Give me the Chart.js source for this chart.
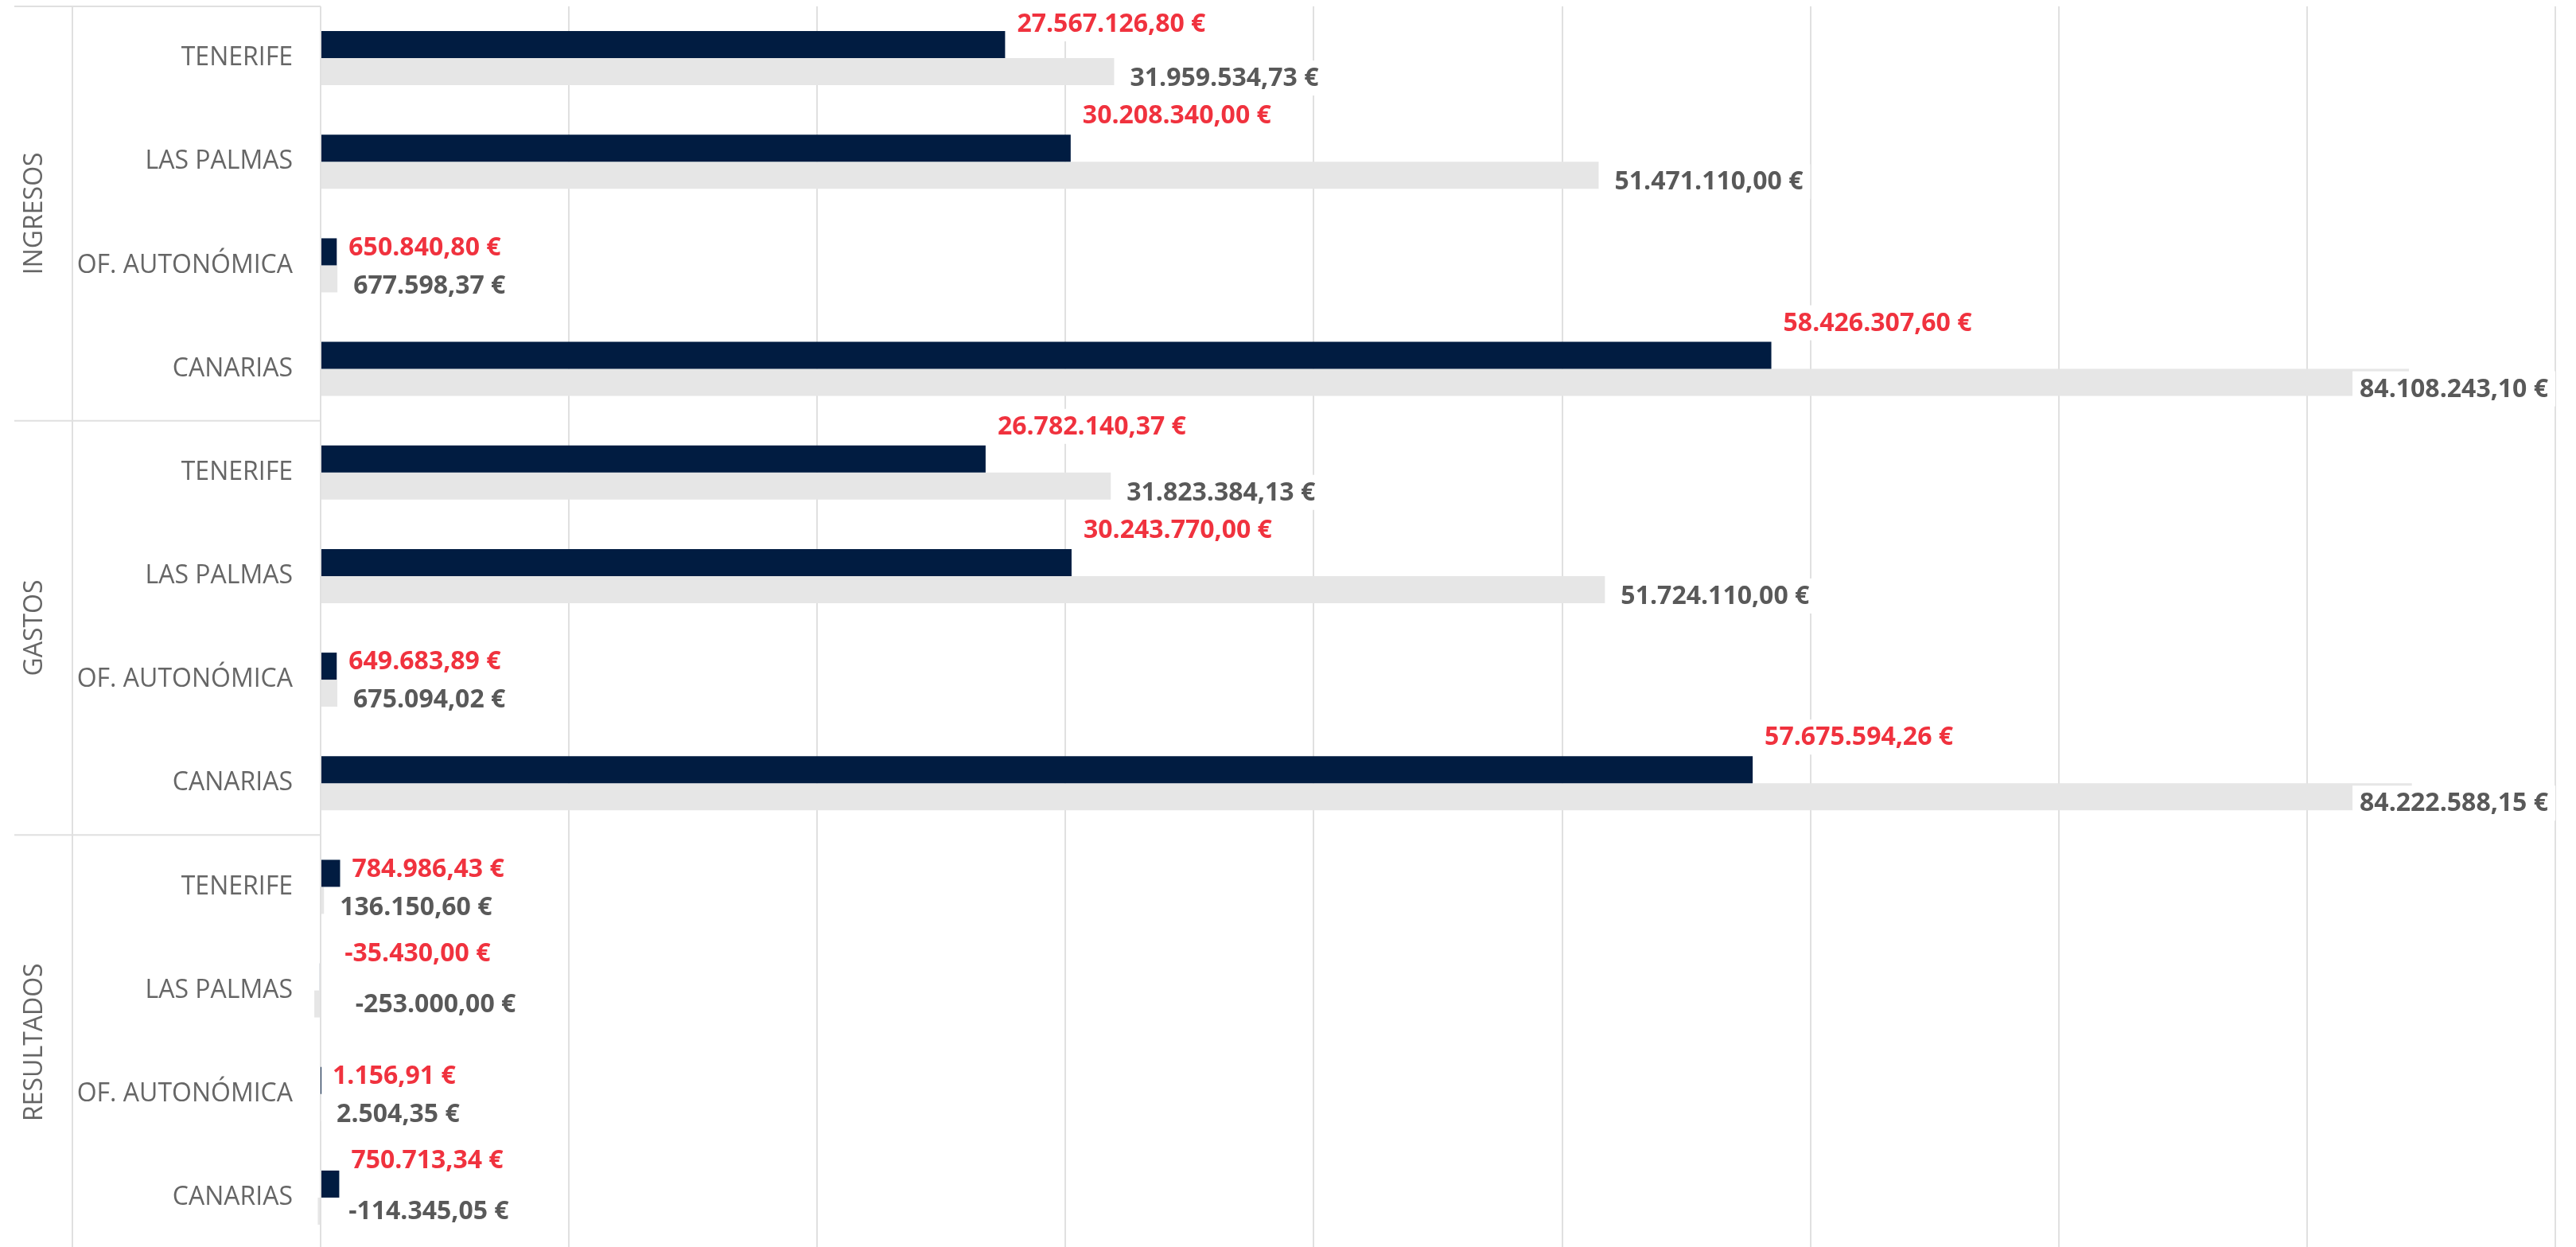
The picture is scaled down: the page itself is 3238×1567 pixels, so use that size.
<!DOCTYPE html>
<html>
<head>
<meta charset="utf-8">
<script src="https://cdn.jsdelivr.net/npm/chart.js@4/dist/chart.umd.min.js"></script>
<style>
  html, body { margin: 0; padding: 0; background: #fff; overflow: hidden; }
  #wrap { position: absolute; left: 0; top: 0; width: 3238px; height: 1575px; }
</style>
</head>
<body>
<div id="wrap"><canvas id="c"></canvas></div>
<script>
// ---- data ----
const groups = ['INGRESOS', 'GASTOS', 'RESULTADOS'];
const categories = ['TENERIFE', 'LAS PALMAS', 'OF. AUTONÓMICA', 'CANARIAS'];

const serieA_ingresos   = [27567126.80, 30208340.00, 650840.80, 58426307.60];
const serieA_gastos     = [26782140.37, 30243770.00, 649683.89, 57675594.26];
const serieA_resultados = [784986.43, -35430.00, 1156.91, 750713.34];

const serieB_ingresos   = [31959534.73, 51471110.00, 677598.37, 84108243.10];
const serieB_gastos     = [31823384.13, 51724110.00, 675094.02, 84222588.15];
const serieB_resultados = [136150.60, -253000.00, 2504.35, -114345.05];

const xMin = 0;
const xMax = 90000000;
const xStep = 10000000;

// ---- build ----
const labels = [];
groups.forEach(() => categories.forEach(c => labels.push(c)));
const serieA = [].concat(serieA_ingresos, serieA_gastos, serieA_resultados);
const serieB = [].concat(serieB_ingresos, serieB_gastos, serieB_resultados);

function fmtEuro(v) {
  const neg = v < 0;
  const parts = Math.abs(v).toFixed(2).split('.');
  const intPart = parts[0].replace(/\B(?=(\d{3})+(?!\d))/g, '.');
  return (neg ? '-' : '') + intPart + ',' + parts[1] + ' €';
}

const COL_DARK = '#011c41';
const COL_GREY = '#e6e6e6';
const COL_RED = '#f0323e';
const COL_LBL = '#595959';
const COL_LINE = '#e0e0e0';
const LABEL_FONT = 'bold 32px "Open Sans"';
const AXIS_FONT_FAMILY = '"Open Sans"';

const decorPlugin = {
  id: 'decor',
  afterDraw(chart) {
    const ctx = chart.ctx;
    const ys = chart.scales.y;
    const area = chart.chartArea;
    const n = labels.length;
    const rowH = (ys.getPixelForValue(1) - ys.getPixelForValue(0));
    const top = ys.getPixelForValue(0) - rowH / 2;
    const bottom = ys.getPixelForValue(n - 1) + rowH / 2;
    const colX = 91;
    const leftX = 18;
    ctx.save();
    ctx.strokeStyle = COL_LINE;
    ctx.lineWidth = 2;
    ctx.beginPath();
    ctx.moveTo(colX, top);
    ctx.lineTo(colX, bottom + 10);
    for (let g = 0; g < groups.length; g++) {
      const y = top + g * categories.length * rowH;
      ctx.moveTo(leftX, y);
      ctx.lineTo(area.left, y);
    }
    ctx.stroke();
    ctx.fillStyle = '#666666';
    ctx.font = '32px ' + AXIS_FONT_FAMILY;
    ctx.textAlign = 'center';
    ctx.textBaseline = 'middle';
    groups.forEach((g, gi) => {
      const cy = top + (gi + 0.5) * categories.length * rowH;
      ctx.save();
      ctx.translate(44, cy);
      ctx.rotate(-Math.PI / 2);
      ctx.fillText(g, 0, 0);
      ctx.restore();
    });
    ctx.restore();
  }
};

const labelPlugin = {
  id: 'valueLabels',
  afterDatasetsDraw(chart) {
    const ctx = chart.ctx;
    const xs = chart.scales.x;
    const area = chart.chartArea;
    const zero = xs.getPixelForValue(0);
    ctx.save();
    ctx.font = LABEL_FONT;
    ctx.textBaseline = 'middle';
    ctx.textAlign = 'left';
    const metaA = chart.getDatasetMeta(0);
    const metaB = chart.getDatasetMeta(1);
    const valsB = chart.data.datasets[1].data;
    for (let d = 0; d < 2; d++) {
      const meta = d === 0 ? metaA : metaB;
      const vals = chart.data.datasets[d].data;
      meta.data.forEach((bar, i) => {
        const v = vals[i];
        const p = bar.getProps(['x', 'y', 'height'], true);
        const text = fmtEuro(v);
        const w = ctx.measureText(text).width;
        const end = Math.max(p.x, zero);
        let tx = v < 0 ? zero + 28 + 2 * (zero - p.x) : end + (d === 0 ? 15 : 20);
        tx = Math.min(tx, area.right - 9 - w);
        let cy;
        if (d === 0) {
          const other = metaB.data[i].getProps(['x'], true).x;
          if (other > tx) cy = Math.max(p.y - p.height / 2 - 24, area.top + 22);
          else if (valsB[i] < 0) cy = p.y - 30;
          else cy = p.y - 6;
        } else {
          cy = v < 0 ? p.y : p.y + 8;
        }
        ctx.fillStyle = '#ffffff';
        ctx.fillRect(tx - 9, cy - 22, w + 18, 44);
        ctx.fillStyle = d === 0 ? COL_RED : COL_LBL;
        ctx.fillText(text, tx, cy + 1);
      });
    }
    ctx.restore();
  }
};

new Chart(document.getElementById('c'), {
  type: 'bar',
  data: {
    labels: labels,
    datasets: [
      { label: 'Serie A', data: serieA, backgroundColor: COL_DARK, clip: false,
        categoryPercentage: 0.522, barPercentage: 1.0 },
      { label: 'Serie B', data: serieB, backgroundColor: COL_GREY, clip: false,
        categoryPercentage: 0.522, barPercentage: 1.0 }
    ]
  },
  options: {
    indexAxis: 'y',
    responsive: true,
    maintainAspectRatio: false,
    animation: false,
    layout: { padding: { left: 91, top: 8, right: 26, bottom: 5 } },
    plugins: { legend: { display: false }, tooltip: { enabled: false } },
    scales: {
      x: {
        min: xMin, max: xMax,
        ticks: { display: false, stepSize: xStep },
        grid: { color: COL_LINE, lineWidth: 2, drawTicks: false },
        border: { display: false },
        afterFit(s) { s.height = 0; s.paddingLeft = 0; s.paddingRight = 0; }
      },
      y: {
        grid: { display: false, drawTicks: false },
        border: { display: false },
        ticks: {
          autoSkip: false,
          padding: 35,
          color: '#666666',
          font: { family: 'Open Sans', size: 32 }
        },
        afterFit(s) { s.width = 312; s.paddingTop = 0; s.paddingBottom = 0; }
      }
    }
  },
  plugins: [decorPlugin, labelPlugin]
});
</script>
</body>
</html>
